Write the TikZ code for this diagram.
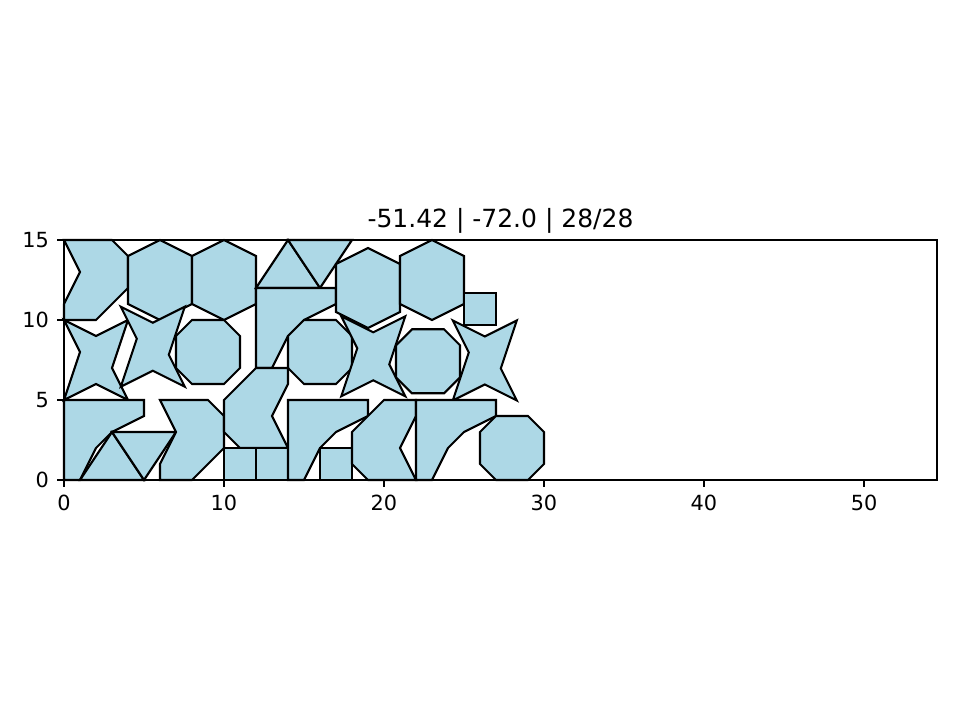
\documentclass[tikz,border=0pt]{standalone}
\usepackage{fontspec}
\setmainfont{DejaVu Sans}
\definecolor{lb}{RGB}{173,216,230}
\begin{document}
\begin{tikzpicture}[x=7.68pt,y=7.68pt,
  poly/.style={fill=lb,draw=black,line width=1pt},
  axtick/.style={line width=0.8pt},
  lbl/.style={font=\fontsize{10}{12}\selectfont,inner sep=0pt},
  hexa/.pic={\path[poly] (2,5)--(4,4)--(4,1)--(2,0)--(0,1)--(0,4)--cycle;},
  octa/.pic={\path[poly] (0,3)--(1,4)--(3,4)--(4,3)--(4,1)--(3,0)--(1,0)--(0,1)--cycle;},
  starp/.pic={\path[poly] (-2,2.5)--(0,1.5)--(2,2.5)--(1,-0.5)--(2,-2.5)--(0,-1.5)--(-2,-2.5)--(-1,0.5)--cycle;},
  lshape/.pic={\path[poly] (0,5)--(5,5)--(5,4)--(3,3)--(2,2)--(1,0)--(0,0)--cycle;},
  cshape/.pic={\path[poly] (2,5)--(4,5)--(4,4)--(3,2)--(4,0)--(1,0)--(0,1)--(0,3)--cycle;},
  sq/.pic={\path[poly] (0,0) rectangle (2,2);}]
\useasboundingbox (-4,-15) rectangle (56,30);
% top row
\path[poly] (0,15)--(3,15)--(4,14)--(4,12)--(2,10)--(0,10)--(0,11)--(1,13)--cycle;
\pic at (4,10) {hexa};
\pic at (8,10) {hexa};
\path[poly] (12,12)--(14,15)--(16,12)--cycle;
\path[poly] (14,15)--(18,15)--(16,12)--cycle;
\pic at (12,7) {lshape};
\pic at (17,9.5) {hexa};
\pic at (21,10) {hexa};
\pic at (25,9.7) {sq};
% middle row
\pic at (2,7.5) {starp};
\pic at (5.55,8.33) {starp};
\pic at (7,6) {octa};
\pic at (14,6) {octa};
\pic at (19.33,7.73) {starp};
\pic at (20.75,5.42) {octa};
\pic at (26.3,7.47) {starp};
% bottom row
\pic at (0,0) {lshape};
\path[poly] (1,0)--(3,3)--(5,0)--cycle;
\path[poly] (3,3)--(7,3)--(5,0)--cycle;
\path[poly] (6,5)--(9,5)--(10,4)--(10,2)--(8,0)--(6,0)--(6,1)--(7,3)--cycle;
\pic at (10,2) {cshape};
\pic at (10,0) {sq};
\pic at (12,0) {sq};
\pic at (14,0) {lshape};
\pic at (16,0) {sq};
\pic at (18,0) {cshape};
\pic at (22,0) {lshape};
\pic at (26,0) {octa};
% axes frame
\coordinate (ll) at (0,0);
\coordinate (ur) at (54.5625,15);
\draw[axtick] (ll) rectangle (ur);
\foreach \x in {0,10,20,30,40,50}{
  \draw[axtick] (\x,0) -- ++(0,-3.5pt);
  \node[lbl,anchor=north] (xt\x) at ([yshift=-7pt]\x,0) {\x};
}
\foreach \y in {0,5,10,15}{
  \draw[axtick] (0,\y) -- ++(-3.5pt,0);
  \node[lbl,anchor=east] (yt\y) at ([xshift=-7pt]0,\y) {\y};
}
\node[font=\fontsize{12}{14}\selectfont,anchor=base,inner sep=0pt] (title) at (27.28,15.78) {-51.42 | -72.0 | 28/28};
\end{tikzpicture}
\end{document}
